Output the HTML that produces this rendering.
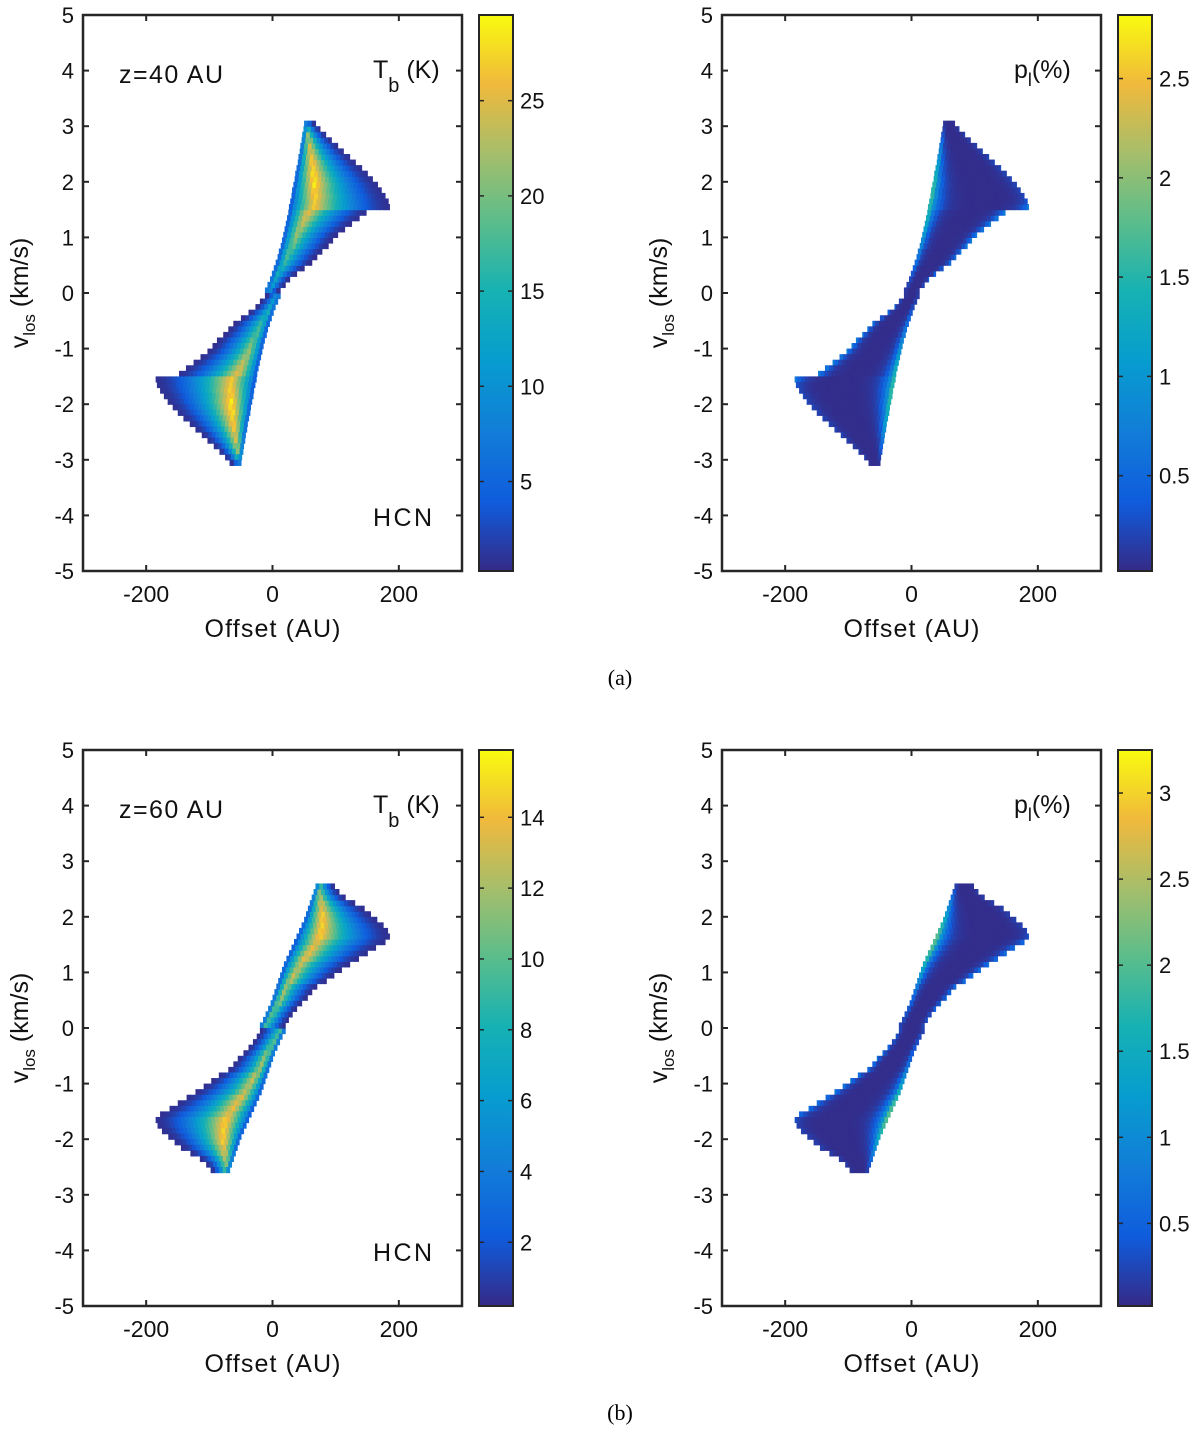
<!DOCTYPE html>
<html><head><meta charset="utf-8">
<style>
body{margin:0;background:#fff;}
svg{display:block;font-family:"Liberation Sans",Arial,sans-serif;}
</style></head>
<body>
<svg id="fig" width="1200" height="1433" viewBox="0 0 1200 1433" xmlns="http://www.w3.org/2000/svg">
<defs>
<linearGradient id="parula" x1="0" y1="1" x2="0" y2="0">
<stop offset="0" stop-color="rgb(53,42,135)"/>
<stop offset="0.125" stop-color="rgb(15,92,221)"/>
<stop offset="0.25" stop-color="rgb(18,125,216)"/>
<stop offset="0.375" stop-color="rgb(7,156,207)"/>
<stop offset="0.5" stop-color="rgb(21,177,180)"/>
<stop offset="0.625" stop-color="rgb(89,189,140)"/>
<stop offset="0.75" stop-color="rgb(165,190,107)"/>
<stop offset="0.875" stop-color="rgb(240,185,60)"/>
<stop offset="1" stop-color="rgb(249,251,14)"/>
</linearGradient>
</defs>
<text x="620" y="685" font-family="Liberation Serif" font-size="22" text-anchor="middle">(a)</text>
<text x="620" y="1420" font-family="Liberation Serif" font-size="22" text-anchor="middle">(b)</text>
</svg>
<script>
// ---- data: upper-lobe rows (v = 0.0, 0.1, ... km/s); lower lobe is point-symmetric
const rowsA = [0,0.1,0.2,0.3,0.4,0.5,0.6,0.7,0.8,0.9,1.0,1.1,1.2,1.3,1.4,1.5,1.6,1.7,1.8,1.9,2.0,2.1,2.2,2.3,2.4,2.5,2.6,2.7,2.8,2.9,3.0];
const leftA  = [-12,-8,-4,-1,2,5,8,10,13,15,17,19,21,23,25,26,28,30,31,33,35,36,38,40,41,43,44,46,47,49,50];
const rightA = [12,20,27,38,50,62,70,78,88,95,103,114,125,137,148,185,183,178,172,166,158,150,141,131,122,112,103,93,84,75,68];
const peakA  = [12,13,14,15,16,17,18,19,20,21,22,23,24,25,26,27,27,28,28,29,29,29,28,28,27,26,25,24,22,18,10];
const edgeLB = [0.5,0.6,0.7,0.8,0.9,1.0,1.1,1.2,1.3,1.4,1.5,1.6,1.7,1.8,1.8,1.9,1.9,2.0,2.0,2.0,1.9,1.8,1.7,1.6,1.5,1.4,1.2,1.0,0.8,0.6,0.4];
const edgeRB = [0.3,0.4,0.5,0.6,0.6,0.7,0.7,0.7,0.8,0.8,0.8,0.8,0.8,0.8,0.8,0.7,0.3,0.2,0.2,0.2,0.2,0.2,0.2,0.2,0.2,0.2,0.2,0.2,0.2,0.2,0.2];

const rowsC = [0,0.1,0.2,0.3,0.4,0.5,0.6,0.7,0.8,0.9,1.0,1.1,1.2,1.3,1.4,1.5,1.6,1.7,1.8,1.9,2.0,2.1,2.2,2.3,2.4,2.5];
const leftC  = [-20,-15,-11,-7,-3,0,3,6,9,12,15,18,22,26,30,34,38,42,46,50,53,56,59,62,65,68];
const rightC = [20,25,31,38,46,55,62,70,85,97,109,122,136,150,163,178,185,182,175,165,155,145,130,115,105,98];
const peakC  = [10,10,11,11,12,12,12,12,13,13,13,13,14,14,14,14,15,15,15,15,15,14,14,13,12,10];
const edgeLD = [0.5,0.6,0.7,0.8,0.9,1.0,1.2,1.4,1.6,1.8,2.0,2.2,2.4,2.5,2.6,2.6,2.6,2.5,2.3,2.0,1.8,1.6,1.4,1.2,0.9,0.6];
const edgeRD = [0.4,0.5,0.6,0.7,0.8,0.8,0.8,0.8,0.8,0.8,0.8,0.8,0.7,0.7,0.7,0.6,0.3,0.2,0.2,0.2,0.2,0.2,0.2,0.2,0.2,0.2];

const yTicks = [5,4,3,2,1,0,-1,-2,-3,-4,-5];
const xTicks = [-200,0,200];
const cbTicksA = [5,10,15,20,25];
const cbTicksB = [0.5,1,1.5,2,2.5];
const cbTicksC = [2,4,6,8,10,12,14];
const cbTicksD = [0.5,1,1.5,2,2.5,3];

const NS="http://www.w3.org/2000/svg";
const svg=document.getElementById('fig');
function mk(tag,attrs,parent){const e=document.createElementNS(NS,tag);for(const k in attrs)e.setAttribute(k,attrs[k]);(parent||svg).appendChild(e);return e;}

const stops=[[53,42,135],[15,92,221],[18,125,216],[7,156,207],[21,177,180],[89,189,140],[165,190,107],[240,185,60],[249,251,14]];
function parula(t){t=Math.max(0,Math.min(1,t));const p=t*(stops.length-1);const i=Math.min(stops.length-2,Math.floor(p));const f=p-i;
 const c=stops[i].map((v,k)=>Math.round(v+(stops[i+1][k]-v)*f));return `rgb(${c[0]},${c[1]},${c[2]})`;}

function panel(cfg){
 const {x0,y0,rows,left,right,kind,cmin,cmax,cbTicks,name}=cfg;
 const W=379,H=556;
 const sx=v=>x0+(v+300)/600*W;
 const sy=v=>y0+(5-v)/10*H;
 const g=mk('g',{});
 
 
 const cells=mk('g',{},g);
 
 
 const dx=6;
 rows.forEach((v,i)=>{
  const L=left[i],R=right[i];
  for(let x=L;x<R;x+=dx){
   const xe=Math.min(R,x+dx);
   const t=((x+xe)/2-L)/Math.max(1,R-L);
   let val;
   if(kind==='T'){
    const pk=cfg.peak[i];const r=0.25;
    const prof=t<r?0.04+0.96*Math.pow(t/r,0.8):0.03+0.97*Math.pow(1-(t-r)/(1-r),1.8);
    val=pk*prof;
   }else{
    val=0.04+cfg.eL[i]*Math.exp(-t/0.07)+cfg.eR[i]*Math.exp(-(1-t)/0.07);
   }
   const col=parula((val-cmin)/(cmax-cmin));
   for(const s of [1,-1]){
    const xa=s>0?x:-xe, xb=s>0?xe:-x;
    const va=s>0?v+0.1:-v, vb=s>0?v:-v-0.1;
    const r=mk('rect',{x:sx(xa),y:sy(va),width:sx(xb)-sx(xa)+0.6,height:sy(vb)-sy(va)+0.6,fill:col},cells);
    
    
   }
  }
 });
 const box=mk('rect',{x:x0,y:y0,width:W,height:H,fill:'none',stroke:'#262626','stroke-width':2.5},g);
 
 
 yTicks.forEach(v=>{
  const y=sy(v);
  mk('line',{x1:x0,x2:x0+6,y1:y,y2:y,stroke:'#262626','stroke-width':2},g);
  mk('line',{x1:x0+W-6,x2:x0+W,y1:y,y2:y,stroke:'#262626','stroke-width':2},g);
  const t=mk('text',{x:x0-9,y:y+8,'font-size':22,'text-anchor':'end',fill:'#111'},g);
  t.textContent=v;
  
  
 });
 xTicks.forEach(v=>{
  const x=sx(v);
  mk('line',{x1:x,x2:x,y1:y0+H,y2:y0+H-6,stroke:'#262626','stroke-width':2},g);
  mk('line',{x1:x,x2:x,y1:y0,y2:y0+6,stroke:'#262626','stroke-width':2},g);
  const t=mk('text',{x:x,y:y0+H+31,'font-size':23,'text-anchor':'middle',fill:'#111'},g);
  t.textContent=v;
  
  
 });
 const xl=mk('text',{x:x0+W/2,y:y0+H+66,'font-size':25,'text-anchor':'middle',fill:'#111',textLength:136},g);
 xl.textContent='Offset (AU)';
 
 
 const yl=mk('text',{transform:`translate(${x0-55},${y0+H/2}) rotate(-90)`,'font-size':25,'text-anchor':'middle',fill:'#111'},g);
 yl.innerHTML='v<tspan font-size="17" dy="7">los</tspan><tspan dy="-7"> (km/s)</tspan>';
 
 
 const cx=x0+396,cw=34;
 const cb=mk('rect',{x:cx,y:y0,width:cw,height:H,fill:'url(#parula)',stroke:'#262626','stroke-width':2},g);
 
 
 const cy=v=>y0+H-(v-cmin)/(cmax-cmin)*H;
 cbTicks.forEach(v=>{
  const y=cy(v);
  mk('line',{x1:cx,x2:cx+5,y1:y,y2:y,stroke:'#262626','stroke-width':1.5},g);
  mk('line',{x1:cx+cw-5,x2:cx+cw,y1:y,y2:y,stroke:'#262626','stroke-width':1.5},g);
  const t=mk('text',{x:cx+cw+7,y:y+8,'font-size':22,fill:'#111'},g);
  t.textContent=v;
  
  
 });
 if(kind==='T'){
  const a=mk('text',{x:x0+36,y:y0+68,'font-size':25,fill:'#111',textLength:104},g);
  a.textContent=cfg.zlabel;
  
  
  const b=mk('text',{x:x0+290,y:y0+63,'font-size':25,fill:'#111'},g);
  b.innerHTML='T<tspan font-size="20" dy="14">b</tspan><tspan dy="-14"> (K)</tspan>';
  
  
  const c=mk('text',{x:x0+290,y:y0+511,'font-size':25,fill:'#111',textLength:59},g);
  c.textContent='HCN';
  
  
 }else{
  const b=mk('text',{x:x0+292,y:y0+63,'font-size':25,fill:'#111'},g);
  b.innerHTML='p<tspan font-size="18" dy="8">l</tspan><tspan dy="-8">(%)</tspan>';
  
  
 }
}
panel({name:'tb-z40',x0:83,y0:15,rows:rowsA,left:leftA,right:rightA,kind:'T',peak:peakA,cmin:0.3,cmax:29.5,cbTicks:cbTicksA,zlabel:'z=40 AU'});
panel({name:'pl-z40',x0:722,y0:15,rows:rowsA,left:leftA,right:rightA,kind:'P',eL:edgeLB,eR:edgeRB,cmin:0.02,cmax:2.82,cbTicks:cbTicksB});
panel({name:'tb-z60',x0:83,y0:750,rows:rowsC,left:leftC,right:rightC,kind:'T',peak:peakC,cmin:0.2,cmax:15.9,cbTicks:cbTicksC,zlabel:'z=60 AU'});
panel({name:'pl-z60',x0:722,y0:750,rows:rowsC,left:leftC,right:rightC,kind:'P',eL:edgeLD,eR:edgeRD,cmin:0.02,cmax:3.25,cbTicks:cbTicksD});
</script>
</body></html>
